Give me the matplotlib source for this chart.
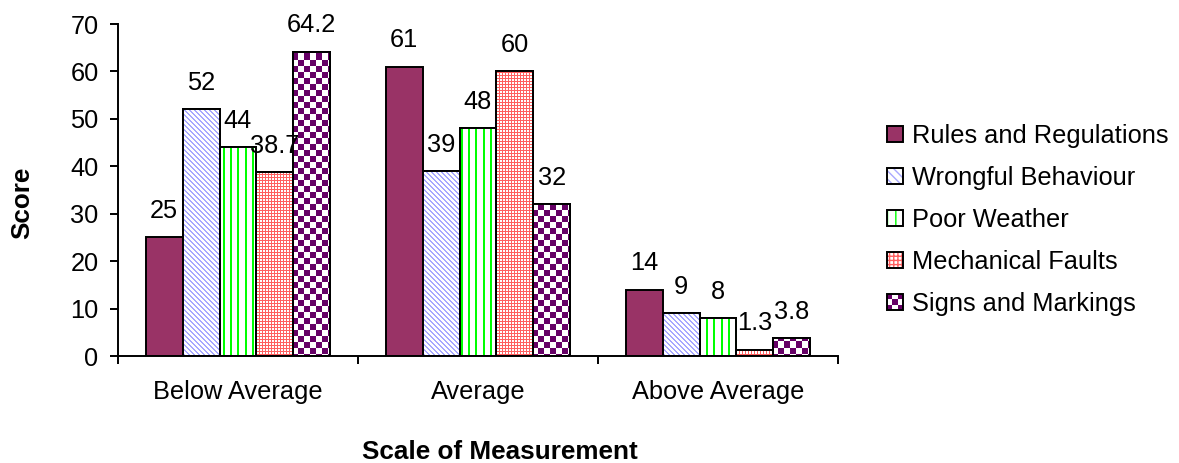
import numpy as np
import matplotlib
matplotlib.use("Agg")
import matplotlib.pyplot as plt
from matplotlib.patches import Patch, Rectangle
from matplotlib.legend_handler import HandlerBase, HandlerTuple
from matplotlib.colors import to_rgb

plt.rcParams["font.family"] = ["Liberation Sans", "DejaVu Sans"]

categories = ["Below Average", "Average", "Above Average"]
series_names = ["Rules and Regulations", "Wrongful Behaviour", "Poor Weather",
                "Mechanical Faults", "Signs and Markings"]
rules = [25, 61, 14]
wrongful = [52, 39, 9]
weather = [44, 48, 8]
mechanical = [38.7, 60, 1.3]
signs = [64.2, 32, 3.8]
yticks = [0, 10, 20, 30, 40, 50, 60, 70]

PLUM = "#993366"
BLUE = "#A8A8FF"
GREEN = "#00FF00"
RED = "#FF6060"
PURPLE = "#660066"
FS = 18.3

fig = plt.figure(figsize=(11.79, 4.63), dpi=100)
ax = fig.add_axes([118 / 1179, 1 - 356 / 463, 720 / 1179, 332 / 463])
ax.set_xlim(0, 3)
ax.set_ylim(0, 70)

# pixel-sized fill patterns covering the whole plot area
bb = ax.get_window_extent()
W, H = int(round(bb.width)), int(round(bb.height))
ii, jj = np.mgrid[0:H, 0:W]


def pattern(mask, color):
    img = np.ones((H, W, 3))
    img[mask] = to_rgb(color)
    return img


pat_diag = pattern((jj - ii) % 5 < 2, BLUE)
pat_vert = pattern(jj % 7 < 2, GREEN)
pat_dots = pattern((ii % 3 == 0) | (jj % 3 == 0), RED)
pat_check = pattern(((ii // 6) + (jj // 6)) % 2 == 0, PURPLE)

values = [rules, wrongful, weather, mechanical, signs]
fills = [None, pat_diag, pat_vert, pat_dots, pat_check]
x = np.arange(len(categories)) + 0.5
bw = 1 / 6.5

for k, (vals, img) in enumerate(zip(values, fills)):
    pos = x + (k - 2) * bw
    face = PLUM if img is None else "white"
    bars = ax.bar(pos, vals, bw, color=face, edgecolor="black", linewidth=1.4, zorder=2)
    if img is not None:
        for b in bars:
            im = ax.imshow(img, extent=(0, 3, 0, 70), aspect="auto",
                           interpolation="nearest", zorder=2.5)
            im.set_clip_path(b)
        ax.bar(pos, vals, bw, fill=False, edgecolor="black", linewidth=1.4, zorder=3)
    for p, v in zip(pos, vals):
        ax.annotate(f"{v:g}", (p, v), xytext=(0, 14), textcoords="offset points",
                    ha="center", va="baseline", fontsize=FS)

ax.set_xlim(0, 3)
ax.set_ylim(0, 70)

ax.spines["top"].set_visible(False)
ax.spines["right"].set_visible(False)
for s in ("left", "bottom"):
    ax.spines[s].set_linewidth(1.4)

ax.set_yticks(yticks)
ax.tick_params(axis="y", labelsize=FS, length=6, width=1.4, pad=8)
ax.set_xticks([0, 1, 2, 3])
ax.set_xticklabels([])
ax.tick_params(axis="x", which="major", length=6, width=1.4)
ax.set_xticks(x, minor=True)
ax.set_xticklabels(categories, minor=True)
ax.tick_params(axis="x", which="minor", length=0, labelsize=FS, pad=17)

fig.text(22 / 1179, 1 - 203 / 463, "Score", rotation=90, fontsize=18.8,
         fontweight="bold", ha="center", va="center")
fig.text(500 / 1179, 1 - 452 / 463, "Scale of Measurement", fontsize=18.8,
         fontweight="bold", ha="center", va="center")


class CheckerHandler(HandlerBase):
    def create_artists(self, legend, orig_handle, xdescent, ydescent,
                       width, height, fontsize, trans):
        arts = []
        n = 3
        cw, ch = width / n, height / n
        for r in range(n):
            for c in range(n):
                col = PURPLE if (r + c) % 2 == 0 else "white"
                arts.append(Rectangle((-xdescent + c * cw, -ydescent + r * ch), cw, ch,
                                      facecolor=col, edgecolor="none", transform=trans))
        arts.append(Rectangle((-xdescent, -ydescent), width, height, facecolor="none",
                              edgecolor="black", linewidth=1.4, transform=trans))
        return arts


def outline():
    return Patch(facecolor="none", edgecolor="black", linewidth=1.4)


handles = [
    Patch(facecolor=PLUM, edgecolor="black", linewidth=1.4),
    (Patch(facecolor="white", edgecolor=BLUE, hatch="\\\\\\\\", linewidth=0), outline()),
    (Patch(facecolor="white", edgecolor=GREEN, hatch="||", linewidth=0), outline()),
    (Patch(facecolor="white", edgecolor=RED, hatch="++++", linewidth=0), outline()),
    Rectangle((0, 0), 1, 1),
]
leg = fig.legend(handles, series_names, loc="upper left",
                 bbox_to_anchor=(887 / 1179, 1 - 124 / 463), frameon=False,
                 fontsize=FS, handlelength=0.62, handleheight=0.62,
                 handletextpad=0.35, labelspacing=0.71, borderpad=0, borderaxespad=0,
                 handler_map={tuple: HandlerTuple(ndivide=1), Rectangle: CheckerHandler()})

fig.savefig("out.png", dpi=100)
